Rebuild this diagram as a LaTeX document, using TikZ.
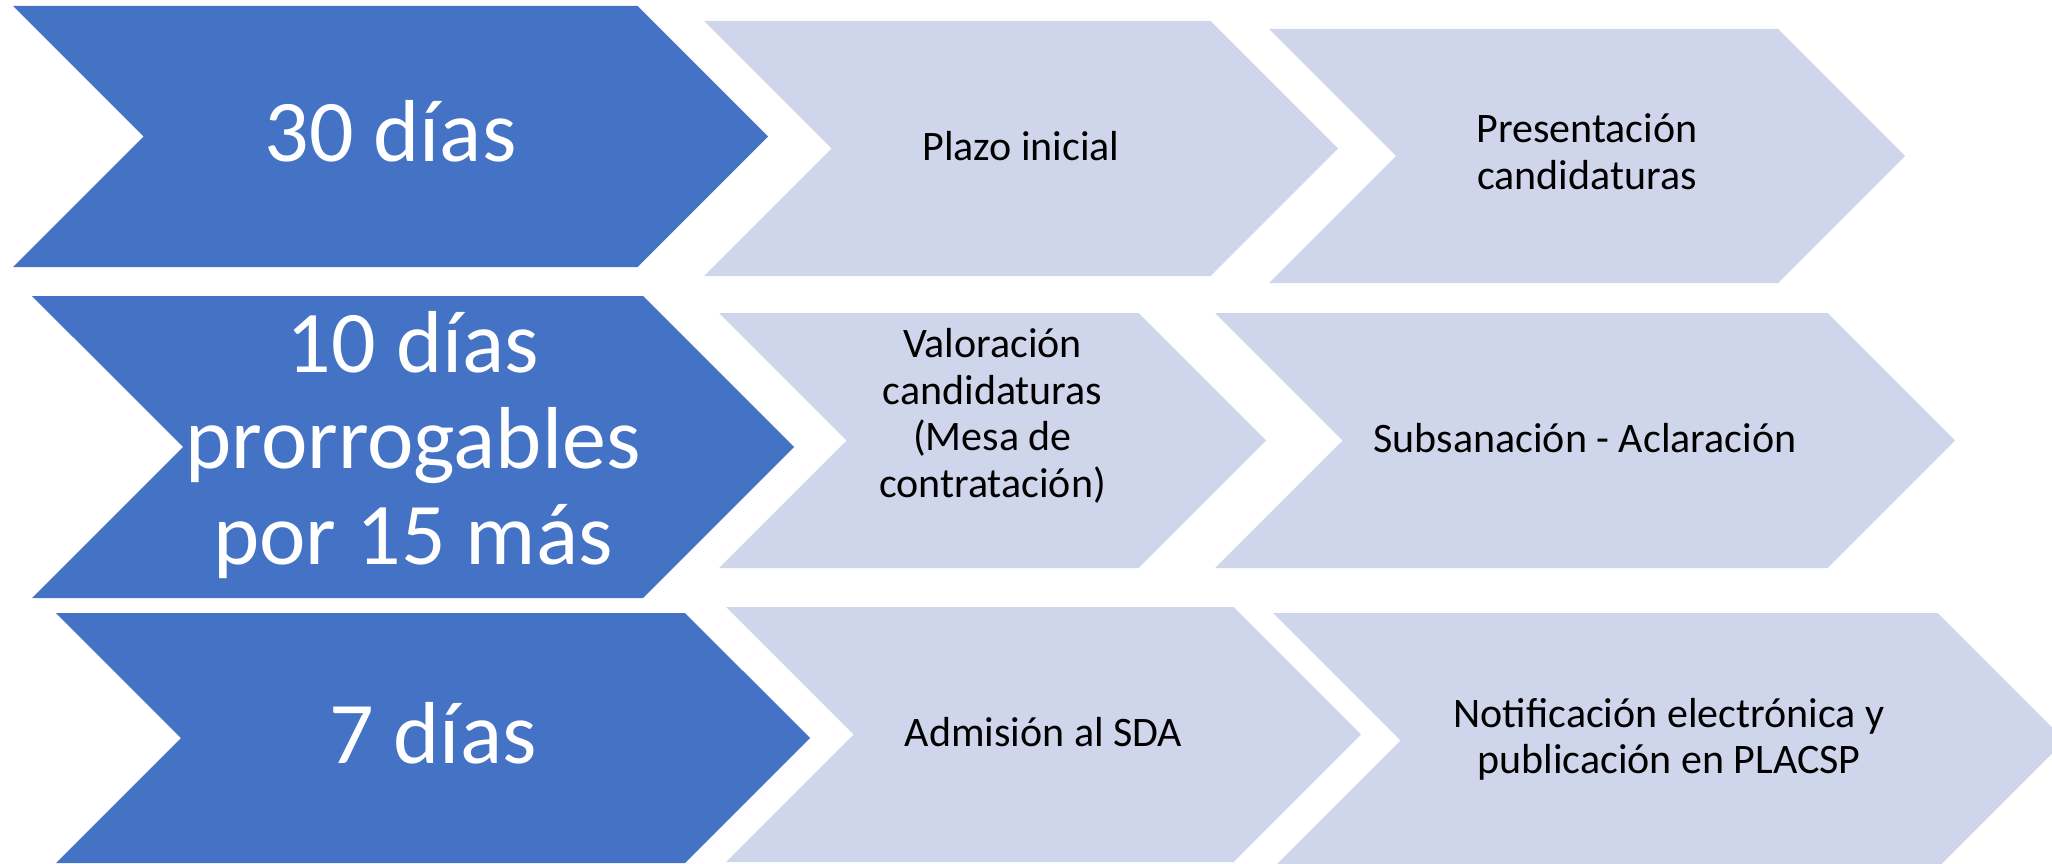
\documentclass[tikz,border=0pt]{standalone}
\usepackage{fontspec}
\setmainfont{Carlito}
\usepackage{xcolor}
\usetikzlibrary{shapes.symbols}

\definecolor{periodblue}{HTML}{4472C4}
\definecolor{stagegray}{HTML}{CFD5EA}

\begin{document}
\begin{tikzpicture}[x=1pt, y=-1pt] % 1 unit = 1 pixel of the original
        % Define chevron styles
        \tikzstyle{chevron} = [signal, signal from=west, signal to=east, signal pointer angle=90,
                               inner sep=0pt, align=center,
                               execute at begin node={\rule{0pt}{0.785em}},
                               execute at end node={\rule[-0.215em]{0pt}{0.215em}}]
        \tikzstyle{period} = [chevron, fill=periodblue, text=white, font=\fontsize{88}{96}\selectfont]
        \tikzstyle{stage} = [chevron, fill=stagegray, text=black, font=\fontsize{42}{46.5}\selectfont]

        \useasboundingbox (0,0) rectangle (2052,864);

        % First row
        \node (days30) [period, minimum width=755pt, minimum height=261pt] at (390.5,136.5) {30 días};
        \node (initial) [stage, minimum width=634pt, minimum height=255pt] at (1021,148.5) {Plazo inicial};
        \node (submission) [stage, minimum width=636pt, minimum height=254pt] at (1587,156) {Presentación\\candidaturas};

        % Second row
        \node (days10) [period, minimum width=762pt, minimum height=302pt] at (413,447) {10 días\\prorrogables\\por 15 más};
        \node (assessment) [stage, minimum width=547pt, minimum height=255pt] at (992.5,440.5) {Valoración\\candidaturas\\(Mesa de\\contratación)\\{}};
        \node (correction) [stage, minimum width=740pt, minimum height=255pt] at (1585,440.5) {Subsanación - Aclaración};

        % Third row
        \node (days7) [period, minimum width=754pt, minimum height=250pt] at (433,738) {7 días};
        \node (admission) [stage, minimum width=635pt, minimum height=255pt] at (1043.5,734.5) {Admisión al SDA};
        \node (notice) [stage, minimum width=792pt, minimum height=255pt] at (1669,740.5) {Notificación electrónica y\\publicación en PLACSP};
\end{tikzpicture}
\end{document}
